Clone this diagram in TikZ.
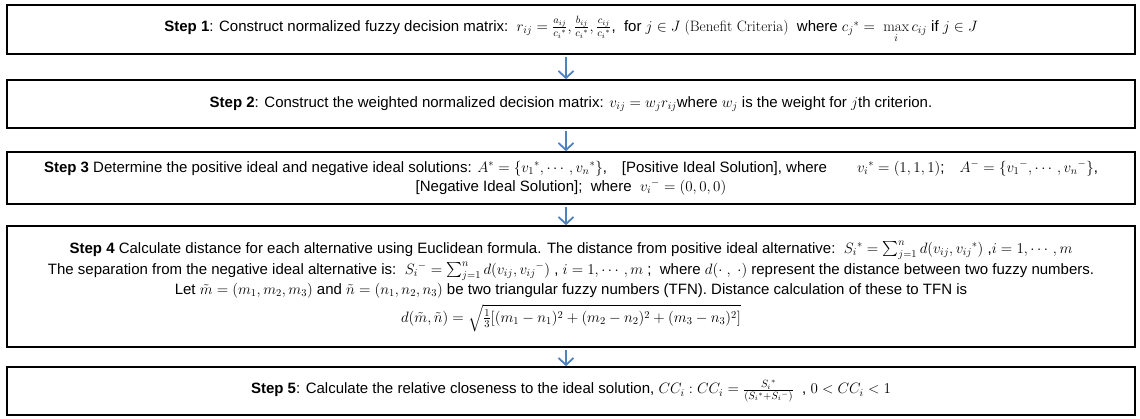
\RequirePackage{fix-cm}
\documentclass[tikz,border=0pt]{standalone}
\usepackage{amsmath}
\usepackage{amssymb}
\usepackage{fontspec}
\newfontfamily\arialfont{Liberation Sans}
\usetikzlibrary{arrows.meta,positioning}
\definecolor{flowblue}{RGB}{79,129,189}
\tikzset{
  stepbox/.style={draw=black, line width=1.6pt, minimum width=1128pt, inner sep=2pt,
    align=center, font=\arialfont\fontsize{15}{19}\selectfont},
  flow/.style={-{Straight Barb[length=7pt,width=15pt]}, line width=1.8pt, flowblue},
}

\begin{document}
\begin{tikzpicture}[x=1pt,y=-1pt]
  \useasboundingbox (0,0) rectangle (1140,418);
  \node[stepbox, minimum height=49pt] (s1) at (571,29.5)
    {{\bfseries Step 1}: Construct normalized fuzzy decision matrix:\ \ $r_{ij}=\frac{a_{ij}}{c_i{}^*},\frac{b_{ij}}{c_i{}^*},\frac{c_{ij}}{c_i{}^*}$,\ \ for $j\in J$ \textrm{(Benefit Criteria)}\ \ where $c_j{}^*=\ \max\limits_i c_{ij}$ if $j\in J$};
  \node[stepbox, minimum height=48pt] (s2) at (571,104)
    {{\bfseries Step 2}: Construct the weighted normalized decision matrix: $v_{ij}=w_jr_{ij}$where $w_j$ is the weight for $j$th criterion.};
  \node[stepbox, minimum height=52pt] (s3) at (571,178)
    {{\bfseries Step 3} Determine the positive ideal and negative ideal solutions: $A^*=\{v_1{}^*,\cdots,v_n{}^*\}$,\quad[Positive Ideal Solution], where\qquad $v_i{}^*=(1,1,1)$;\quad $A^-=\{v_1{}^-,\cdots,v_n{}^-\}$,\\{}[Negative Ideal Solution];\ \ where\ \ $v_i{}^-=(0,0,0)$};
  \node[stepbox, minimum height=121pt] (s4) at (571,286.5)
    {{\bfseries Step 4} Calculate distance for each alternative using Euclidean formula. The distance from positive ideal alternative:\ \ $S_i{}^*=\sum_{j=1}^n d(v_{ij},v_{ij}{}^*)$ ,$i=1,\cdots,m$\\[2pt]
     The separation from the negative ideal alternative is:\ \ $S_i{}^-=\sum_{j=1}^n d(v_{ij},v_{ij}{}^-)$ , $i=1,\cdots,m$ ;\ \ where $d(\cdot\ ,\ \cdot)$ represent the distance between two fuzzy numbers.\\[1pt]
     Let $\tilde m=(m_1,m_2,m_3)$ and $\tilde n=(n_1,n_2,n_3)$ be two triangular fuzzy numbers (TFN). Distance calculation of these to TFN is\\[5pt]
     $d(\tilde m,\tilde n)=\sqrt{\frac13[(m_1-n_1)^2+(m_2-n_2)^2+(m_3-n_3)^2]}$};
  \node[stepbox, minimum height=48pt] (s5) at (571,391)
    {{\bfseries Step 5}: Calculate the relative closeness to the ideal solution, $CC_i:CC_i=\frac{S_i{}^*}{(S_i{}^*+S_i{}^-)}$\ \ , $0<CC_i<1$};
  \foreach \a/\b in {s1/s2,s2/s3,s3/s4,s4/s5}{
    \draw[flow] ([xshift=-5pt,yshift=-2pt]\a.south) -- ([xshift=-5pt]\b.north);
  }
\end{tikzpicture}
\end{document}
